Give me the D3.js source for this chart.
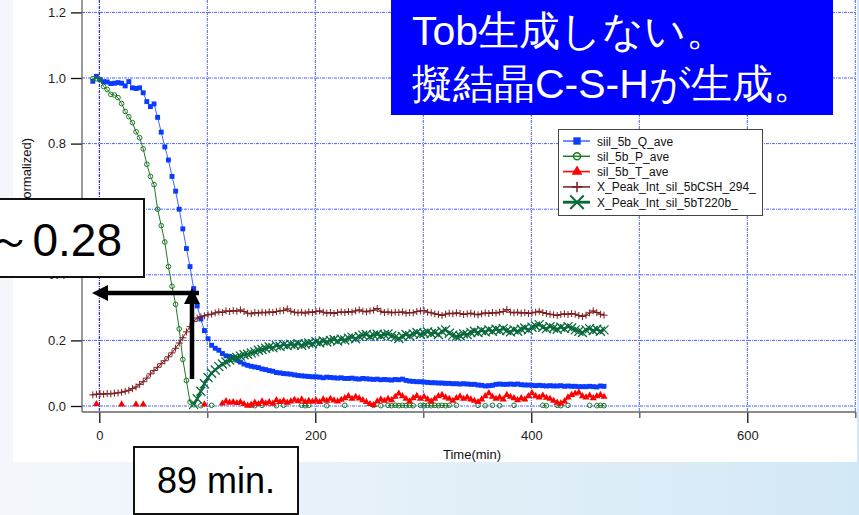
<!DOCTYPE html>
<html>
<head>
<meta charset="utf-8">
<script src="https://cdn.jsdelivr.net/npm/d3@7"></script>
<style>
  html, body { margin: 0; padding: 0; }
  body { width: 859px; height: 515px; overflow: hidden; }
  text { font-family: "Liberation Sans", Arial, sans-serif; }
</style>
</head>
<body>
<svg id="chart" width="859" height="515"></svg>
<script>
// one scan every 200 s, first scan at -6 min
const T0 = -6, DT = 10 / 3;

const seriesNames = ["siil_5b_Q_ave", "sil_5b_P_ave", "sil_5b_T_ave",
                     "X_Peak_Int_sil_5bCSH_294_", "X_Peak_Int_sil_5bT220b_"];

const qAve = [
  0.990,1.005,0.995,0.989,0.988,0.983,0.984,0.986,0.984,0.976,
  0.989,0.970,0.968,0.970,0.955,0.928,0.913,0.921,0.880,0.835,
  0.790,0.750,0.700,0.655,0.600,0.540,0.480,0.425,0.358,0.305,
  0.265,0.230,0.205,0.185,0.176,0.170,0.160,0.153,0.151,0.148,
  0.140,0.134,0.128,0.124,0.121,0.119,0.117,0.113,0.111,0.108,
  0.106,0.102,0.101,0.099,0.098,0.097,0.095,0.093,0.092,0.091,
  0.090,0.089,0.089,0.088,0.086,0.088,0.087,0.086,0.085,0.086,
  0.084,0.084,0.085,0.083,0.082,0.084,0.083,0.082,0.081,0.082,
  0.080,0.081,0.080,0.079,0.081,0.080,0.082,0.078,0.076,0.075,
  0.074,0.074,0.073,0.072,0.071,0.071,0.070,0.070,0.069,0.069,
  0.068,0.068,0.067,0.068,0.067,0.066,0.066,0.064,0.063,0.061,
  0.062,0.063,0.066,0.067,0.066,0.066,0.067,0.066,0.067,0.065,
  0.064,0.064,0.063,0.062,0.063,0.062,0.061,0.062,0.061,0.061,
  0.062,0.060,0.061,0.060,0.060,0.059,0.059,0.059,0.060,0.059,
  0.058,0.061,0.060];

const pAve = [
  0.998,0.998,0.995,0.974,0.965,0.950,0.948,0.940,0.922,0.898,
  0.882,0.864,0.836,0.818,0.784,0.737,0.700,0.675,0.600,0.550,
  0.500,0.425,0.365,0.310,0.235,0.142,0.078,0.012,0.004,null,
  0.001,null,null,0.002,null,null,null,null,null,null,
  null,null,null,null,0.002,0.001,null,0.002,null,null,
  null,0.001,null,0.002,null,null,null,null,0.002,0.001,
  0.002,null,null,null,null,0.001,null,null,null,null,
  0.002,null,null,null,null,null,null,null,0.002,null,
  0.001,null,0.002,0.001,0.002,0.001,0.002,0.001,0.002,0.001,
  null,0.002,0.001,0.002,0.001,0.002,0.001,0.002,0.001,0.002,
  null,0.002,null,null,null,null,null,0.002,null,0.001,
  null,0.002,null,0.001,null,null,null,0.002,null,null,
  null,null,null,null,null,0.002,0.001,null,null,0.002,
  0.001,null,0.002,null,null,null,null,null,0.002,null,
  0.001,0.002,0.001];

const tAve = [
  null,0.006,null,null,null,null,null,null,0.005,null,
  null,null,0.005,null,0.005,null,null,null,null,null,
  null,null,null,null,null,null,null,null,null,null,
  null,0.005,null,null,null,null,0.008,0.015,0.010,0.012,
  0.009,0.012,0.006,0.001,0.004,0.010,0.006,0.014,0.008,0.012,
  0.007,0.018,0.012,0.016,0.010,0.014,0.019,0.015,0.020,0.012,
  0.016,0.013,0.017,0.012,0.020,0.016,0.022,0.017,0.014,0.019,
  0.024,0.030,0.022,0.028,0.023,0.018,0.012,0.006,0.003,0.014,
  0.020,0.016,0.022,0.018,0.028,0.038,0.030,0.022,0.014,0.024,
  0.031,0.022,0.028,0.020,0.014,0.022,0.030,0.034,0.026,0.022,
  0.016,0.024,0.029,0.022,0.026,0.020,0.016,0.012,0.020,0.030,
  0.039,0.028,0.022,0.026,0.020,0.034,0.028,0.024,0.018,0.024,
  0.020,0.030,0.039,0.030,0.026,0.032,0.025,0.022,0.016,0.010,
  0.008,0.014,0.026,0.034,0.038,0.041,0.030,0.026,0.032,0.024,
  0.030,0.034,0.028];

const cshPeak = [
  0.034,0.036,0.037,0.036,0.038,0.037,0.039,0.040,0.042,0.045,
  0.048,0.053,0.058,0.066,0.074,0.085,0.098,0.108,0.118,0.129,
  0.138,0.150,0.162,0.176,0.192,0.208,0.226,0.242,0.258,0.268,
  0.272,0.275,0.278,0.280,0.284,0.287,0.285,0.290,0.288,0.291,
  0.289,0.293,0.288,0.283,0.281,0.285,0.283,0.286,0.284,0.287,
  0.285,0.288,0.290,0.291,0.296,0.289,0.286,0.284,0.286,0.283,
  0.287,0.285,0.288,0.290,0.286,0.283,0.285,0.282,0.285,0.287,
  0.285,0.288,0.286,0.290,0.293,0.289,0.287,0.290,0.292,0.297,
  0.289,0.285,0.287,0.284,0.286,0.285,0.287,0.283,0.285,0.284,
  0.288,0.290,0.291,0.286,0.284,0.281,0.279,0.276,0.280,0.283,
  0.281,0.284,0.282,0.279,0.281,0.283,0.280,0.278,0.281,0.284,
  0.282,0.285,0.283,0.286,0.288,0.294,0.286,0.284,0.286,0.283,
  0.285,0.282,0.284,0.286,0.289,0.285,0.282,0.280,0.278,0.276,
  0.279,0.281,0.279,0.282,0.280,0.276,0.273,0.277,0.284,0.290,
  0.285,0.280,0.277];

const t220Peak = [
  null,null,null,null,null,null,null,null,null,null,
  null,null,null,null,null,null,null,null,null,null,
  null,null,null,null,null,null,null,null,0.005,0.022,
  0.045,0.068,0.087,0.100,0.110,0.120,0.128,0.134,0.140,0.145,
  0.148,0.152,0.156,0.158,0.162,0.165,0.170,0.172,0.176,0.180,
  0.178,0.184,0.182,0.187,0.184,0.188,0.186,0.190,0.185,0.189,
  0.192,0.190,0.196,0.193,0.198,0.195,0.200,0.203,0.198,0.204,
  0.201,0.207,0.210,0.205,0.212,0.216,0.218,0.212,0.216,0.219,
  0.214,0.218,0.220,0.214,0.210,0.206,0.212,0.218,0.214,0.220,
  0.224,0.219,0.222,0.226,0.221,0.224,0.218,0.228,0.232,0.222,
  0.216,0.212,0.214,0.220,0.218,0.224,0.228,0.224,0.230,0.226,
  0.232,0.228,0.234,0.230,0.236,0.230,0.226,0.232,0.228,0.234,
  0.238,0.232,0.240,0.244,0.248,0.240,0.236,0.242,0.238,0.234,
  0.240,0.236,0.242,0.238,0.232,0.228,0.224,0.232,0.236,0.230,
  0.234,0.228,0.232];

const xMajor = [0, 200, 400, 600];
const xMinor = [100, 300, 500, 700];
const yTicks = [0, 0.2, 0.4, 0.6, 0.8, 1.0, 1.2];

const noteLines = ["Tob生成しない。", "擬結晶C-S-Hが生成。"];
const valueNote = "～0.28";
const timeNote = "89 min.";

const W = 859, H = 515;
const plot = { left: 82, right: 855, top: 0, bottom: 412 };

const svg = d3.select('#chart');
const defs = svg.append('defs');

const bg = defs.append('linearGradient').attr('id', 'bg');
bg.append('stop').attr('offset', '0%').attr('stop-color', '#f4f8fc');
bg.append('stop').attr('offset', '100%').attr('stop-color', '#d3e8f6');
svg.append('rect').attr('width', W).attr('height', H).attr('fill', 'url(#bg)');
svg.append('rect').attr('x', 13).attr('y', 0).attr('width', 844).attr('height', 462).attr('fill', '#fff');

defs.append('clipPath').attr('id', 'clip')
  .append('rect')
  .attr('x', plot.left).attr('y', plot.top)
  .attr('width', plot.right - plot.left).attr('height', plot.bottom - plot.top);

const x = d3.scaleLinear().domain([0, 600]).range([99.3, 747.3]);
const y = d3.scaleLinear().domain([0, 1.2]).range([406, 12.4]);

// grid
const gridH = svg.append('g')
  .attr('stroke', '#4563ff').attr('stroke-width', 1).attr('stroke-dasharray', '3,1,1,1');
gridH.selectAll('line').data(yTicks).join('line')
  .attr('x1', plot.left).attr('x2', plot.right)
  .attr('y1', d => y(d)).attr('y2', d => y(d));
const gridV = svg.append('g')
  .attr('stroke', '#4563ff').attr('stroke-width', 1).attr('stroke-dasharray', '3,1,1,1');
gridV.selectAll('line').data(xMajor.concat(xMinor)).join('line')
  .attr('x1', d => x(d)).attr('x2', d => x(d))
  .attr('y1', plot.top).attr('y2', plot.bottom)
  .attr('stroke', d => d === 0 ? '#0000cc' : null);

// axes
const xAxis = svg.append('g').attr('transform', `translate(0,${plot.bottom})`)
  .call(d3.axisBottom(x).tickValues(xMajor).tickSize(11).tickPadding(8).tickFormat(d3.format('d')));
const xAxisMinor = svg.append('g').attr('transform', `translate(0,${plot.bottom})`)
  .call(d3.axisBottom(x).tickValues(xMinor).tickSize(6).tickFormat(''));
const yAxis = svg.append('g').attr('transform', `translate(${plot.left},0)`)
  .call(d3.axisLeft(y).tickValues(yTicks).tickSize(11).tickPadding(5).tickFormat(d3.format('.1f')));

[xAxis, xAxisMinor, yAxis].forEach(g => {
  g.select('.domain').remove();
  g.selectAll('line').attr('stroke', '#111').attr('stroke-width', 1.3);
  g.selectAll('text').attr('font-size', 13).attr('fill', '#222')
    .attr('font-family', '"Liberation Sans", Arial, sans-serif');
});
xAxisMinor.selectAll('line').attr('stroke', '#555');

svg.append('line').attr('x1', plot.left).attr('x2', plot.left)
  .attr('y1', 0).attr('y2', plot.bottom).attr('stroke', '#555').attr('stroke-width', 1.2);
svg.append('line').attr('x1', plot.left).attr('x2', plot.right + 1)
  .attr('y1', plot.bottom).attr('y2', plot.bottom).attr('stroke', '#666').attr('stroke-width', 1.6);

svg.append('text').attr('x', 472).attr('y', 459).attr('text-anchor', 'middle')
  .attr('font-size', 13).attr('fill', '#111').text('Time(min)');
// mostly hidden behind the value box, as in the slide
svg.append('text').attr('transform', 'translate(31,138) rotate(-90)')
  .attr('text-anchor', 'end').attr('font-size', 13).attr('fill', '#111')
  .text('Intensity (normalized)');

// series
const time = qAve.map((_, i) => T0 + i * DT);

const markers = {
  square: d3.symbol(d3.symbolSquare, 24)(),
  circle: d3.symbol(d3.symbolCircle, 17)(),
  triangle: d3.symbol(d3.symbolTriangle, 22)(),
  plus: 'M-3.5,0H3.5M0,-3.5V3.5',
  cross: 'M-4.5,-4.5L4.5,4.5M-4.5,4.5L4.5,-4.5'
};

const series = [
  { name: seriesNames[0], values: qAve, color: '#3b68ff', width: 1, marker: 'square', fill: '#0a3cff', stroke: 'none', mw: 0 },
  { name: seriesNames[1], values: pAve, color: '#1f7a25', width: 1, marker: 'circle', fill: 'none', stroke: '#1f7a25', mw: 1 },
  { name: seriesNames[2], values: tAve, color: '#ff1010', width: 1.2, marker: 'triangle', fill: '#ff0000', stroke: 'none', mw: 0 },
  { name: seriesNames[3], values: cshPeak, color: '#7a1c1c', width: 1, marker: 'plus', fill: 'none', stroke: '#7a1c1c', mw: 1 },
  { name: seriesNames[4], values: t220Peak, color: '#0b6a3c', width: 2.4, marker: 'cross', fill: 'none', stroke: '#0b6a3c', mw: 1.3 }
];

const line = d3.line()
  .defined(d => d[1] != null)
  .x(d => x(d[0]))
  .y(d => y(d[1]));

const dataG = svg.append('g').attr('clip-path', 'url(#clip)');
series.forEach(s => {
  const pts = time.map((t, i) => [t, s.values[i]]);
  const g = dataG.append('g');
  g.append('path').datum(pts).attr('d', line)
    .attr('fill', 'none').attr('stroke', s.color).attr('stroke-width', s.width);
  g.selectAll('path.m').data(pts.filter(d => d[1] != null)).join('path')
    .attr('class', 'm')
    .attr('transform', d => `translate(${x(d[0])},${y(d[1])})`)
    .attr('d', markers[s.marker])
    .attr('fill', s.fill).attr('stroke', s.stroke).attr('stroke-width', s.mw);
});

// legend
const legend = svg.append('g').attr('transform', 'translate(558,129)');
legend.append('rect').attr('x', 0.5).attr('y', 0.5).attr('width', 204).attr('height', 86)
  .attr('fill', '#fff').attr('stroke', '#444').attr('stroke-width', 1);
const item = legend.selectAll('g.item').data(series).join('g')
  .attr('class', 'item')
  .attr('transform', (d, i) => `translate(0,${12 + i * 15.3})`);
item.append('line').attr('x1', 5).attr('x2', 32).attr('y1', 0).attr('y2', 0)
  .attr('stroke', d => d.color).attr('stroke-width', d => d.width + 0.5);
item.append('path').attr('transform', 'translate(19,0) scale(1.5)')
  .attr('d', d => markers[d.marker])
  .attr('fill', d => d.fill).attr('stroke', d => d.stroke).attr('stroke-width', d => d.mw);
item.append('text').attr('x', 39).attr('y', 4.5).attr('font-size', 12).attr('fill', '#111')
  .text(d => d.name);

// annotations
svg.append('rect').attr('x', 391).attr('y', -2).attr('width', 442).attr('height', 117).attr('fill', '#0000ff');
svg.append('g').selectAll('text').data(noteLines).join('text')
  .attr('x', 412).attr('y', (d, i) => 45 + i * 53)
  .attr('font-family', '"Noto Sans CJK JP", sans-serif')
  .attr('font-size', 41).attr('fill', '#fff').text(d => d);

svg.append('rect').attr('x', -6).attr('y', 199).attr('width', 150).attr('height', 78)
  .attr('fill', '#fff').attr('stroke', '#111').attr('stroke-width', 2);
svg.append('text').attr('x', 122).attr('y', 256).attr('text-anchor', 'end')
  .attr('font-size', 46).attr('fill', '#000')
  .attr('font-family', '"Liberation Sans", "Noto Sans CJK JP", sans-serif')
  .text(valueNote);

svg.append('rect').attr('x', 134).attr('y', 447).attr('width', 164).attr('height', 67)
  .attr('fill', '#fff').attr('stroke', '#111').attr('stroke-width', 2);
svg.append('text').attr('x', 216).attr('y', 493).attr('text-anchor', 'middle')
  .attr('font-size', 36).attr('fill', '#000').text(timeNote);

// arrows
const arrows = svg.append('g').attr('fill', '#000').attr('stroke', '#000');
arrows.append('line').attr('x1', 105).attr('x2', 199).attr('y1', 293).attr('y2', 293).attr('stroke-width', 4.5);
arrows.append('path').attr('d', 'M92,293L108,285L108,301Z').attr('stroke', 'none');
arrows.append('line').attr('x1', 192).attr('x2', 192).attr('y1', 300).attr('y2', 379).attr('stroke-width', 4.5);
arrows.append('path').attr('d', 'M192,288L200,304L184,304Z').attr('stroke', 'none');
</script>
</body>
</html>
